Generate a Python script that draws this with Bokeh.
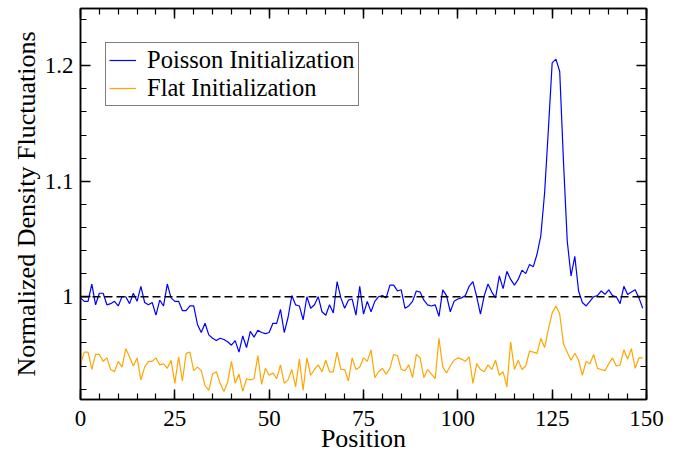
from bokeh.plotting import figure
from bokeh.models import (Range1d, FixedTicker, LinearAxis, CustomJSTickFormatter,
                          Legend, LegendItem, Span)
from bokeh.embed import file_html
from bokeh.resources import INLINE

position = list(range(150))

poisson = [
    0.999, 0.996, 0.996, 1.011, 0.993, 1.003, 1.003, 0.993, 0.994, 0.996,
    0.992, 1.000, 1.000, 0.994, 1.003, 0.996, 1.009, 0.995, 0.993, 0.995,
    0.984, 0.997, 0.992, 1.011, 0.999, 0.996, 0.996, 0.988, 0.988, 0.992,
    0.992, 0.976, 0.969, 0.977, 0.967, 0.964, 0.962, 0.964, 0.963, 0.961,
    0.958, 0.962, 0.952, 0.966, 0.956, 0.970, 0.965, 0.971, 0.969, 0.968,
    0.969, 0.977, 0.977, 0.989, 0.969, 0.982, 1.001, 0.993, 0.992, 0.980,
    1.000, 0.990, 0.993, 1.000, 0.987, 0.984, 0.993, 0.986, 1.013, 0.999,
    0.990, 0.997, 0.998, 0.984, 1.009, 0.985, 0.996, 0.987, 0.996, 1.000,
    1.001, 0.999, 1.010, 1.010, 1.005, 1.006, 0.990, 0.992, 0.996, 1.005,
    1.004, 0.997, 0.993, 0.992, 0.993, 0.983, 1.006, 1.001, 0.987, 0.996,
    0.998, 0.999, 1.001, 1.009, 1.013, 1.000, 0.985, 1.001, 1.011, 1.004,
    0.999, 1.018, 1.007, 1.022, 1.015, 1.010, 1.015, 1.023, 1.020, 1.028,
    1.026, 1.037, 1.053, 1.090, 1.145, 1.2025, 1.2057, 1.195, 1.117, 1.048,
    1.018, 1.035, 1.005, 0.995, 0.992, 0.996, 1.000, 1.001, 1.005, 1.002,
    1.006, 1.001, 1.000, 0.994, 1.009, 1.002, 1.004, 1.006, 0.999, 0.990,
]

flat = [
    0.942, 0.952, 0.952, 0.937, 0.950, 0.950, 0.944, 0.947, 0.937, 0.935,
    0.944, 0.939, 0.955, 0.948, 0.940, 0.947, 0.928, 0.939, 0.944, 0.944,
    0.947, 0.941, 0.942, 0.938, 0.945, 0.925, 0.948, 0.927, 0.951, 0.952,
    0.936, 0.939, 0.936, 0.923, 0.919, 0.933, 0.935, 0.925, 0.918, 0.926,
    0.944, 0.925, 0.933, 0.918, 0.929, 0.928, 0.929, 0.949, 0.924, 0.938,
    0.932, 0.934, 0.929, 0.941, 0.925, 0.928, 0.937, 0.922, 0.946, 0.919,
    0.947, 0.932, 0.937, 0.941, 0.935, 0.945, 0.935, 0.935, 0.952, 0.937,
    0.937, 0.927, 0.947, 0.937, 0.939, 0.947, 0.944, 0.954, 0.930, 0.935,
    0.938, 0.933, 0.938, 0.950, 0.949, 0.937, 0.936, 0.941, 0.930, 0.950,
    0.947, 0.930, 0.937, 0.933, 0.929, 0.964, 0.939, 0.934, 0.940, 0.945,
    0.947, 0.946, 0.944, 0.948, 0.925, 0.942, 0.937, 0.935, 0.941, 0.937,
    0.945, 0.932, 0.935, 0.922, 0.961, 0.937, 0.945, 0.937, 0.940, 0.953,
    0.952, 0.951, 0.964, 0.956, 0.972, 0.986, 0.992, 0.985, 0.959, 0.952,
    0.945, 0.951, 0.945, 0.932, 0.944, 0.942, 0.950, 0.938, 0.937, 0.936,
    0.942, 0.947, 0.940, 0.941, 0.954, 0.946, 0.955, 0.938, 0.947, 0.947,
]

x_major = [0, 25, 50, 75, 100, 125, 150]
x_minor = list(range(0, 151, 5))
y_major = [1.0, 1.1, 1.2]
y_minor = [0.92 + 0.02 * i for i in range(17)]

FONT = "Liberation Serif"

p = figure(width=682, height=455, output_backend="svg", toolbar_location=None,
           x_range=Range1d(0, 150), y_range=Range1d(0.911, 1.2496),
           min_border_left=80, min_border_right=36, min_border_top=8,
           min_border_bottom=51, background_fill_color="white",
           border_fill_color="white")
p.grid.visible = False
p.outline_line_color = "black"
p.outline_line_width = 1.5

xt = FixedTicker(ticks=x_major, minor_ticks=x_minor)
yt = FixedTicker(ticks=y_major, minor_ticks=y_minor)
yfmt = CustomJSTickFormatter(code="return String(Math.round(tick*10)/10);")
blank = CustomJSTickFormatter(code="return '';")

def style_axis(ax, labels=True):
    ax.axis_line_color = "black"
    ax.axis_line_width = 1.5
    ax.major_tick_line_color = "black"
    ax.major_tick_line_width = 1.5
    ax.minor_tick_line_color = "black"
    ax.minor_tick_line_width = 1.2
    ax.major_tick_in = 10
    ax.major_tick_out = 0
    ax.minor_tick_in = 6
    ax.minor_tick_out = 0
    if labels:
        ax.major_label_text_font = FONT
        ax.major_label_text_font_size = "23px"
        ax.major_label_text_color = "black"
        ax.axis_label_text_font = FONT
        ax.axis_label_text_font_size = "26px"
        ax.axis_label_text_font_style = "normal"
        ax.axis_label_text_color = "black"
    else:
        ax.formatter = blank
        ax.major_label_standoff = 0

xa = p.xaxis[0]
xa.ticker = xt
style_axis(xa)
xa.axis_label = "Position"
xa.major_label_standoff = 11
xa.axis_label_standoff = -5

ya = p.yaxis[0]
ya.ticker = yt
ya.formatter = yfmt
style_axis(ya)
ya.axis_label = "Normalized Density Fluctuations"
ya.major_label_standoff = 7
ya.axis_label_standoff = 1

top = LinearAxis(ticker=xt)
style_axis(top, labels=False)
p.add_layout(top, "above")
right = LinearAxis(ticker=yt)
style_axis(right, labels=False)
p.add_layout(right, "right")

p.add_layout(Span(location=1.0, dimension="width", line_color="black",
                  line_width=1.5, line_dash="8 4"))

r1 = p.line(position, poisson, line_color="#0000ff", line_width=1.2)
r2 = p.line(position, flat, line_color="#ffa500", line_width=1.2)

legend = Legend(items=[LegendItem(label="Poisson Initialization", renderers=[r1]),
                       LegendItem(label="Flat Initialization", renderers=[r2])],
                location=(25, 293), orientation="vertical",
                label_text_font=FONT, label_text_font_size="24.5px",
                label_text_color="black", glyph_width=27, glyph_height=20,
                label_height=20, label_standoff=11, padding=3, spacing=0,
                margin=0, border_line_color="black", border_line_width=1.5,
                background_fill_color="white", background_fill_alpha=1.0)
p.add_layout(legend, "center")

open("out.html", "w").write(file_html(p, INLINE))
